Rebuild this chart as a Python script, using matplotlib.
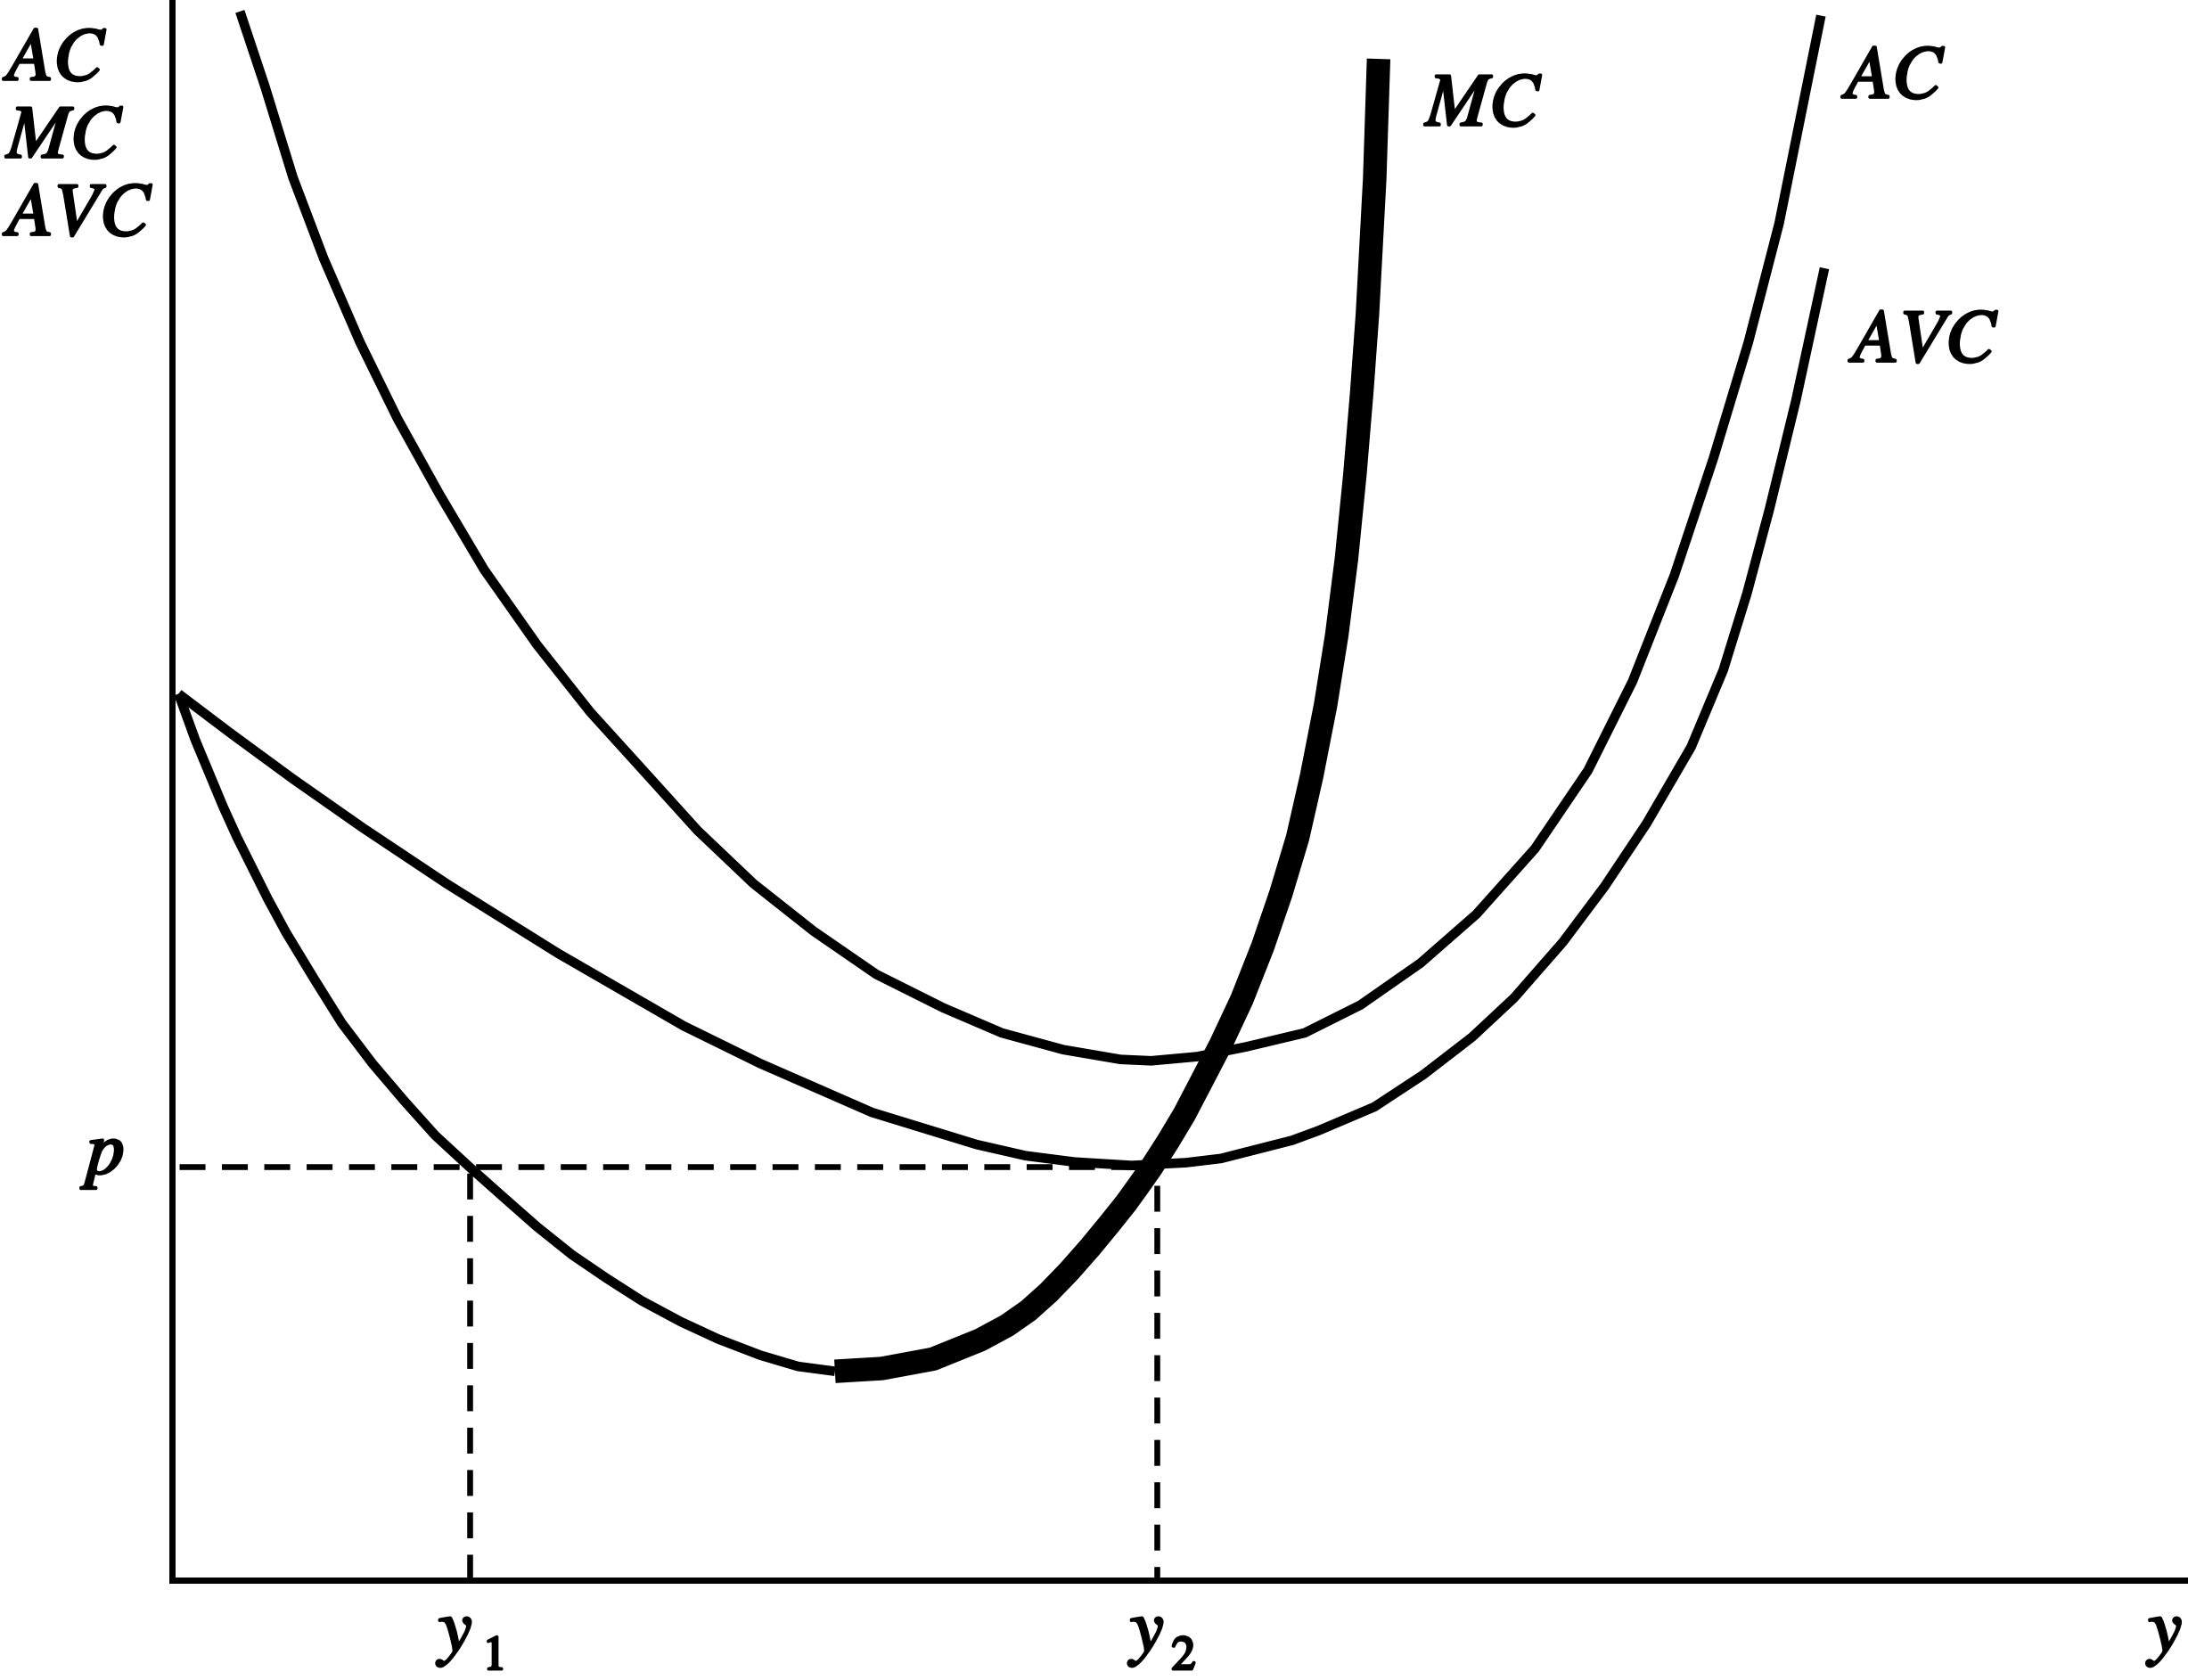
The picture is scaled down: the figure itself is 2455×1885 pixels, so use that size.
import matplotlib.pyplot as plt
import matplotlib.patheffects as pe

# кривые издержек, значения (начало координат в углу осей)
ac_x = [49, 67, 87, 109, 135, 162, 192, 224, 262, 300, 339, 377, 417, 460, 505,
        553, 595, 639, 680, 702, 735, 770, 812, 852, 895, 935, 977, 1015, 1047,
        1077, 1105, 1130, 1152, 1182]
ac_y = [1124, 1070, 1005, 947, 887, 832, 778, 724, 670, 622, 579, 537, 499, 465, 434,
        410, 392, 380, 373, 372, 375, 382, 392, 412, 442, 477, 524, 580, 644,
        720, 804, 887, 972, 1121]

avc_x = [5, 42, 87, 137, 197, 277, 367, 422, 502, 577, 612, 647, 688, 727, 752,
         803, 822, 862, 897, 932, 962, 997, 1027, 1057, 1089, 1112, 1129, 1145,
         1164, 1184.5]
avc_y = [635, 607, 574, 539, 499, 449, 397, 370, 335, 312, 304, 299.5, 297, 299, 302,
         315, 322, 339, 362, 389, 417, 457, 497, 542, 597, 652, 707, 767,
         845, 940]

# MC: тонкая часть до минимума, толстая после
mc_thin_x = [5, 17, 27, 37, 47, 57, 69, 82, 102, 122, 144, 167, 189, 213.4, 237,
             262, 287, 312, 337, 365, 392, 422, 449, 475.4]
mc_thin_y = [635, 602, 578, 554, 532, 512, 488, 464, 431, 399, 370, 343, 318.5, 296, 275,
             253, 233, 216, 200, 185, 172.5, 161, 153, 149.5]
mc_thick_x = [475.4, 509, 545.7, 579.6, 598.7, 614, 628.5, 643, 658, 672, 684, 693,
              702, 714, 725.8, 739, 752, 767, 782, 795, 807, 817, 827, 835, 842,
              848, 853, 857, 862.2, 865]
mc_thick_y = [149.5, 151.5, 158.3, 172, 182.3, 193, 206, 221, 238, 255, 270, 282.5,
              295.3, 314, 333.7, 359, 384, 416, 454, 492, 532, 576, 627, 677, 732,
              792, 852, 907, 1004, 1090]

p = 296
y1 = 213.4
y2 = 705.8
p_start, p_end = 5.4, 701
y2_top = 282.5

W, H = 2455, 1885
ox, oy = 192.5, 1772.7
k = 1.5657  # пикселей файла на единицу

fig = plt.figure(figsize=(W / 100, H / 100), dpi=100)
ax = fig.add_axes([ox / W, (H - oy) / H, 1 - ox / W, oy / H])
ax.set_xlim(0, (W - ox) / k)
ax.set_ylim(0, oy / k)
ax.set_xticks([])
ax.set_yticks([])
for s in ['top', 'right']:
    ax.spines[s].set_visible(False)
for s in ['left', 'bottom']:
    ax.spines[s].set_linewidth(5.0)
    ax.spines[s].set_capstyle('projecting')

thin = 7.7
dash = (0, (4.45, 2.83))

ax.plot(ac_x, ac_y, color='black', lw=thin, solid_capstyle='butt', clip_on=False)
ax.plot(avc_x, avc_y, color='black', lw=thin, solid_capstyle='butt', clip_on=False)
ax.plot(mc_thin_x, mc_thin_y, color='black', lw=thin, solid_capstyle='butt', clip_on=False)
ax.plot(mc_thick_x, mc_thick_y, color='black', lw=19, solid_capstyle='butt', clip_on=False)

ax.plot([p_start, p_end], [p, p], color='black', lw=4.7, linestyle=dash)
ax.plot([y1, y1], [0, p], color='black', lw=4.7, linestyle=dash)
ax.plot([y2, y2], [y2_top, 0], color='black', lw=4.7, linestyle=dash)

stroke = [pe.withStroke(linewidth=2.2, foreground='black')]
font = dict(family='STIXGeneral', style='italic', size=61, color='black',
            path_effects=stroke, clip_on=False, ha='left', va='baseline')
sub = dict(family='STIXGeneral', size=39, color='black',
           path_effects=stroke, clip_on=False, ha='left', va='baseline')

ax.text(-117.9, 1075.2, 'AC', **font)
ax.text(-117.9, 1019.6, 'MC', **font)
ax.text(-117.9, 964.0, 'AVC', **font)

ax.text(898.9, 1042.6, 'MC', **font)
ax.text(1199.7, 1062.4, 'AC', **font)
ax.text(1204.8, 873.3, 'AVC', **font)

ax.text(-61, 291.5, 'p', **font)

ax.text(191.2, -50.9, 'y', **font)
ax.text(223, -64, '1', **sub)
ax.text(686.9, -50.9, 'y', **font)
ax.text(716.6, -64, '2', **sub)
ax.text(1416.6, -50.9, 'y', **font)

plt.savefig('out.png', dpi=100)
